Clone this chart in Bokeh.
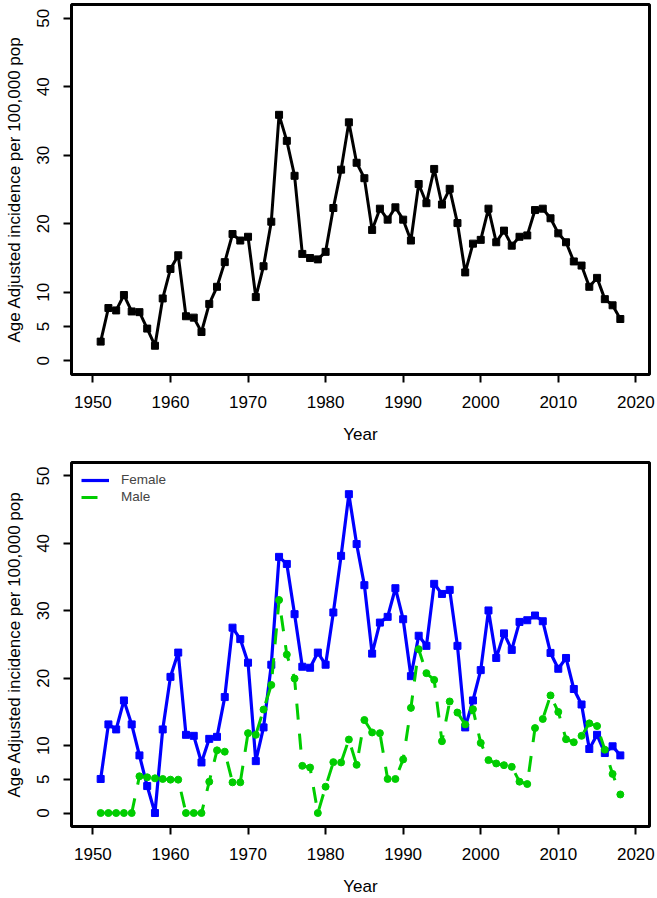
from bokeh.plotting import figure
from bokeh.models import Range1d, FixedTicker, Legend, LegendItem
from bokeh.layouts import column
from bokeh.embed import file_html
from bokeh.resources import INLINE

years = list(range(1951, 2019))

total = [2.8, 7.7, 7.35, 9.6, 7.2, 7.1, 4.7, 2.2, 9.1, 13.4,
         15.4, 6.5, 6.3, 4.2, 8.3, 10.8, 14.4, 18.5, 17.55, 18.1,
         9.3, 13.8, 20.3, 35.9, 32.1, 27.0, 15.6, 15.0, 14.8, 15.9,
         22.3, 27.9, 34.8, 28.9, 26.65, 19.1, 22.2, 20.6, 22.4, 20.6,
         17.55, 25.8, 23.0, 28.0, 22.8, 25.1, 20.1, 12.9, 17.1, 17.65,
         22.2, 17.3, 19.0, 16.8, 18.1, 18.3, 22.0, 22.2, 20.8, 18.6,
         17.3, 14.5, 13.9, 10.8, 12.1, 9.0, 8.1, 6.1]

female = [5.05, 13.15, 12.4, 16.7, 13.15, 8.55, 4.0, 0.0, 12.4, 20.2,
          23.8, 11.6, 11.45, 7.5, 11.0, 11.3, 17.2, 27.5, 25.8, 22.3,
          7.7, 12.7, 22.0, 38.0, 36.95, 29.5, 21.7, 21.55, 23.8, 22.0,
          29.75, 38.15, 47.3, 39.9, 33.8, 23.65, 28.25, 29.1, 33.35, 28.75,
          20.3, 26.3, 24.8, 34.0, 32.5, 33.1, 24.8, 12.7, 16.7, 21.2,
          30.05, 23.0, 26.65, 24.2, 28.35, 28.6, 29.3, 28.45, 23.75, 21.4,
          23.0, 18.4, 16.1, 9.5, 11.6, 8.9, 9.9, 8.55]

male = [0.0, 0.0, 0.0, 0.0, 0.0, 5.45, 5.3, 5.15, 5.05, 4.95,
        4.95, 0.0, 0.0, 0.0, 4.65, 9.3, 9.1, 4.55, 4.55, 11.85,
        11.6, 15.35, 19.0, 31.6, 23.5, 19.95, 7.0, 6.75, 0.0, 3.9,
        7.55, 7.5, 10.9, 7.15, 13.8, 11.95, 11.85, 5.05, 5.05, 7.95,
        15.6, 24.3, 20.75, 19.75, 10.65, 16.55, 14.9, 13.15, 15.4, 10.4,
        7.85, 7.35, 7.1, 6.85, 4.65, 4.3, 12.6, 13.95, 17.45, 15.0,
        10.95, 10.5, 11.45, 13.3, 12.9, 9.4, 5.8, 2.75]

x_ticks = [1950, 1960, 1970, 1980, 1990, 2000, 2010, 2020]
y_ticks = [0, 5, 10, 20, 30, 40, 50]
x_title = "Year"
y_title = "Age Adjusted incidence per 100,000 pop"
series_names = ["Female", "Male"]

FONT = "Liberation Sans"


def make_fig(height, top, bottom):
    p = figure(width=657, height=height, output_backend="svg", toolbar_location=None,
               x_range=Range1d(1947.24, 2021.76), y_range=Range1d(-2, 52),
               min_border_left=71, min_border_right=8,
               min_border_top=top, min_border_bottom=bottom)
    p.outline_line_color = "black"
    p.outline_line_width = 3
    p.outline_line_alpha = 1
    p.xgrid.visible = False
    p.ygrid.visible = False
    p.background_fill_color = "white"
    p.border_fill_color = "white"
    for ax in (p.xaxis[0], p.yaxis[0]):
        ax.axis_line_color = None
        ax.major_tick_in = 0
        ax.major_tick_out = 8
        ax.major_tick_line_width = 2
        ax.major_tick_line_color = "black"
        ax.minor_tick_line_color = None
        ax.major_label_text_font = FONT
        ax.major_label_text_font_size = "17px"
        ax.major_label_text_color = "black"
        ax.axis_label_text_font = FONT
        ax.axis_label_text_font_size = "17px"
        ax.axis_label_text_font_style = "normal"
        ax.axis_label_text_color = "black"
    p.xaxis[0].ticker = FixedTicker(ticks=x_ticks)
    p.yaxis[0].ticker = FixedTicker(ticks=y_ticks)
    p.xaxis[0].axis_label = x_title
    p.yaxis[0].axis_label = y_title
    p.xaxis[0].major_label_standoff = 13
    p.xaxis[0].axis_label_standoff = 14
    p.yaxis[0].major_label_orientation = "vertical"
    p.yaxis[0].major_label_standoff = 14
    p.yaxis[0].axis_label_standoff = 11
    return p


p1 = make_fig(449, 4, 75)
p1.line(years, total, line_color="black", line_width=3)
p1.scatter(years, total, marker="square", size=7, fill_color="black", line_color="black")

p2 = make_fig(449, 13, 66)
lf = p2.line(years, female, line_color="#0000FF", line_width=3.2)
p2.scatter(years, female, marker="square", size=7, fill_color="#0000FF", line_color="#0000FF")
lm = p2.line(years, male, line_color="#00CD00", line_width=3, line_dash="16 14")
p2.scatter(years, male, marker="circle", size=7, fill_color="#00CD00", line_color="#00CD00")

legend = Legend(items=[LegendItem(label=series_names[0], renderers=[lf]),
                       LegendItem(label=series_names[1], renderers=[lm])],
                location="top_left", margin=10, padding=0, spacing=2,
                glyph_width=28, glyph_height=14, label_height=14,
                label_standoff=12, border_line_color=None, background_fill_alpha=0,
                label_text_font=FONT, label_text_font_size="13.5px")
p2.add_layout(legend)

layout = column(p1, p2, spacing=0)
open("out.html", "w").write(file_html(layout, INLINE))
